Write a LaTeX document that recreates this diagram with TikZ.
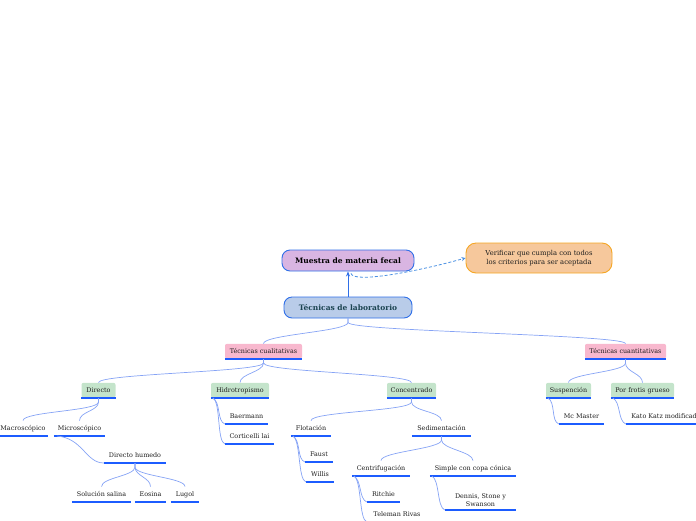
\documentclass[tikz,border=0pt]{standalone}
\usepackage{fontspec}
\setmainfont{DejaVu Serif}
\usetikzlibrary{arrows.meta,calc}
\definecolor{purp}{HTML}{D9B5E2}
\definecolor{orfill}{HTML}{F6C89C}
\definecolor{orline}{HTML}{F5A623}
\definecolor{blfill}{HTML}{B9CCE9}
\definecolor{blline}{HTML}{2F6FE8}
\definecolor{pinkf}{HTML}{F8B8CE}
\definecolor{greenf}{HTML}{C4E4CB}
\definecolor{ulblue}{HTML}{1C5CFF}
\definecolor{conn}{HTML}{86A3F5}
\definecolor{txt}{HTML}{1E1E1E}
\definecolor{tealtxt}{HTML}{1B4350}
\definecolor{dashcol}{HTML}{4A90E2}
\tikzset{
  topbox/.style={draw=blline, line width=0.9pt, rounded corners=8pt, minimum height=21pt, inner sep=2pt, font=\fontsize{7.5}{9}\selectfont\bfseries},
  catbox/.style={rounded corners=2pt, anchor=south, minimum height=15pt, inner sep=1pt, text=txt, font=\fontsize{6.4}{8}\selectfont},
  leaf/.style={anchor=south, minimum height=15pt, inner sep=1pt, text=txt, font=\fontsize{6.4}{8}\selectfont},
  ulc/.style={draw=ulblue, line width=1.2pt},
  cn/.style={draw=conn, line width=0.7pt},
}
\newcommand\ulin[1]{\draw[ulc] (#1.south west) -- (#1.south east);}
\newcommand\dn[2]{\draw[cn] (#1.south) -- ++(0,4) .. controls +(0,9) and +(0,-9) .. (#2.north);}
\newcommand\sd[2]{\draw[cn] ($(#1.south west)+(2,0)$) .. controls +(8,4) and +(-8,-3) .. (#2.south west);}
\begin{document}
\begin{tikzpicture}[x=1pt,y=-1pt]
\useasboundingbox (0,0) rectangle (696,520);
% top nodes
\node[topbox, fill=purp, minimum width=132pt, text=black] (muestra) at (348,260.5) {Muestra de materia fecal};
\node[topbox, fill=blfill, minimum width=128pt, text=tealtxt] (lab) at (348,307.5) {Técnicas de laboratorio};
\node[draw=orline, line width=0.9pt, fill=orfill, rounded corners=10pt, minimum width=146pt, minimum height=30pt, align=center, text=txt, font=\fontsize{6.8}{9}\selectfont] (verif) at (539,258) {Verificar que cumpla con todos\\los criterios para ser aceptada};
\draw[blline, line width=0.9pt, -{Stealth[length=5pt,width=4pt]}] (lab.north) -- (muestra.south);
\draw[dashcol, line width=0.8pt, dash pattern=on 3pt off 2pt, -{Stealth[length=4pt,width=4pt]}] ($(muestra.south)+(3,2)$) .. controls +(2,10) and +(-50,14) .. (verif.west);
% level 2
\node[catbox, fill=pinkf, minimum width=77pt] (cual) at (263.5,359) {Técnicas cualitativas};
\node[catbox, fill=pinkf, minimum width=81pt] (cuant) at (625.5,359) {Técnicas cuantitativas};
% level 3
\node[catbox, fill=greenf, minimum width=34pt] (dir) at (98.5,398) {Directo};
\node[catbox, fill=greenf, minimum width=58pt] (hidro) at (240,398) {Hidrotropismo};
\node[catbox, fill=greenf, minimum width=49pt] (conc) at (411.5,398) {Concentrado};
\node[catbox, fill=greenf, minimum width=45pt] (susp) at (568.5,398) {Suspención};
\node[catbox, fill=greenf, minimum width=63pt] (frot) at (642.5,398) {Por frotis grueso};
% leaves
\node[leaf, minimum width=50pt] (macro) at (23,436) {Macroscópico};
\node[leaf, minimum width=51pt] (micro) at (79.5,436) {Microscópico};
\node[leaf, minimum width=62pt] (dh) at (135,463) {Directo humedo};
\node[leaf, minimum width=59pt] (sol) at (101.5,502) {Solución salina};
\node[leaf, minimum width=31pt] (eos) at (150.5,502) {Eosina};
\node[leaf, minimum width=28pt] (lug) at (185,502) {Lugol};
\node[leaf, minimum width=43pt] (baer) at (246.5,424) {Baermann};
\node[leaf, minimum width=49pt] (cort) at (249.5,444) {Corticelli lai};
\node[leaf, minimum width=40pt] (flot) at (311,436) {Flotación};
\node[leaf, minimum width=28pt] (faust) at (319,462) {Faust};
\node[leaf, minimum width=28pt] (willis) at (320,482) {Willis};
\node[leaf, minimum width=59pt] (sedi) at (441.5,436) {Sedimentación};
\node[leaf, minimum width=58pt] (centr) at (381,476) {Centrifugación};
\node[leaf, minimum width=86pt] (simple) at (473,476) {Simple con copa cónica};
\node[leaf, minimum width=33pt] (ritchie) at (383.5,502) {Ritchie};
\node[leaf, minimum width=60pt] (tele) at (397,522) {Teleman Rivas};
\node[leaf, minimum width=71pt, align=center, inner ysep=3pt] (dennis) at (480.5,510) {Dennis, Stone y\\Swanson};
\node[leaf, minimum width=45pt] (mc) at (581.5,424) {Mc Master};
\node[leaf, minimum width=80pt] (kato) at (666,424) {Kato Katz modificado};
% underlines
\foreach \n in {cual,cuant,dir,hidro,conc,susp,frot,macro,micro,dh,sol,eos,lug,baer,cort,flot,faust,willis,sedi,centr,simple,ritchie,tele,dennis,mc,kato}{\ulin{\n}}
% connectors
\dn{lab}{cual}
\dn{lab}{cuant}
\dn{cual}{dir}
\dn{cual}{hidro}
\dn{cual}{conc}
\dn{dir}{macro}
\dn{dir}{micro}
\dn{dh}{sol}
\dn{dh}{eos}
\dn{dh}{lug}
\dn{conc}{flot}
\dn{conc}{sedi}
\dn{sedi}{centr}
\dn{sedi}{simple}
\dn{cuant}{susp}
\dn{cuant}{frot}
\draw[cn] ($(micro.south west)+(3,0)$) .. controls +(26,2) and +(-18,0) .. (dh.south west);
\sd{hidro}{baer}
\sd{hidro}{cort}
\sd{flot}{faust}
\sd{flot}{willis}
\sd{centr}{ritchie}
\sd{centr}{tele}
\sd{simple}{dennis}
\sd{susp}{mc}
\sd{frot}{kato}
\end{tikzpicture}
\end{document}
